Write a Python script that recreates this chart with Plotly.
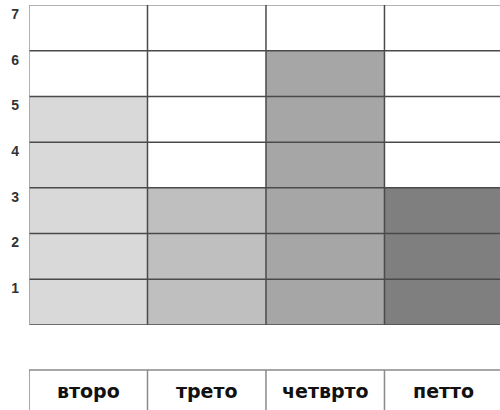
import plotly.graph_objects as go

categories = ["второ", "трето", "четврто", "петто"]
values = [5, 3, 6, 3]
y_ticks = [1, 2, 3, 4, 5, 6, 7]

bar_colors = ["#d9d9d9", "#bfbfbf", "#a6a6a6", "#7f7f7f"]
grid_color = "#4a4a4a"
outer_color = "#9a9a9a"

W, H = 500, 410
x_left_px = 29
y_top_px, y_bottom_px = 5, 325
xr = [-0.5, 3.475]
yr = [0, 7]

fig = go.Figure()
fig.add_trace(go.Bar(
    x=list(range(len(categories))), y=values, width=1,
    marker=dict(color=bar_colors, line=dict(width=0)),
    hoverinfo="skip", showlegend=False,
))

shapes = []
# horizontal grid lines (above bars)
for v in range(yr[0], yr[1] + 1):
    shapes.append(dict(type="line", xref="x", yref="y", x0=xr[0], x1=xr[1] + 1, y0=v, y1=v,
                       line=dict(color=outer_color if v == yr[1] else grid_color, width=1.5),
                       layer="above"))
# vertical grid lines
for i in range(len(categories) + 1):
    shapes.append(dict(type="line", xref="x", yref="y", x0=i - 0.5, x1=i - 0.5, y0=0, y1=yr[1],
                       line=dict(color=outer_color if i == 0 else grid_color, width=1.5),
                       layer="above"))

# table of category labels below the chart
t_top = 1 - 370 / H
t_bot = -0.1
for i in range(len(categories) + 1):
    shapes.append(dict(type="line", xref="x", yref="paper", x0=i - 0.5, x1=i - 0.5, y0=t_bot, y1=t_top,
                       line=dict(color="#8a8a8a", width=1.5), layer="above"))
shapes.append(dict(type="line", xref="x", yref="paper", x0=-0.5, x1=xr[1] + 1, y0=t_top, y1=t_top,
                   line=dict(color="#8a8a8a", width=1.5), layer="above"))

annotations = []
for i, c in enumerate(categories):
    annotations.append(dict(x=i, y=1 - 391 / H, xref="x", yref="paper", text=c, showarrow=False,
                            font=dict(family="DejaVu Sans", size=19, color="#111111", weight="bold"),
                            xanchor="center", yanchor="middle"))

fig.update_layout(
    width=W, height=H,
    margin=dict(l=0, r=0, t=0, b=0),
    paper_bgcolor="white", plot_bgcolor="white",
    bargap=0,
    xaxis=dict(domain=[x_left_px / W, 1], range=xr, showgrid=False, zeroline=False,
               showticklabels=False, ticks="", fixedrange=True),
    yaxis=dict(domain=[1 - y_bottom_px / H, 1 - y_top_px / H], range=yr, showgrid=False,
               zeroline=False, tickmode="array", tickvals=y_ticks,
               ticktext=[str(t) for t in y_ticks], ticks="", ticklabelshift=9,
               ticklabelstandoff=9,
               tickfont=dict(family="Liberation Sans", size=14, color="#333333", weight="bold"),
               fixedrange=True),
    shapes=shapes,
    annotations=annotations,
)

fig.write_html("out.html", config={"displayModeBar": False},
               post_script="document.body.style.margin='0';")
